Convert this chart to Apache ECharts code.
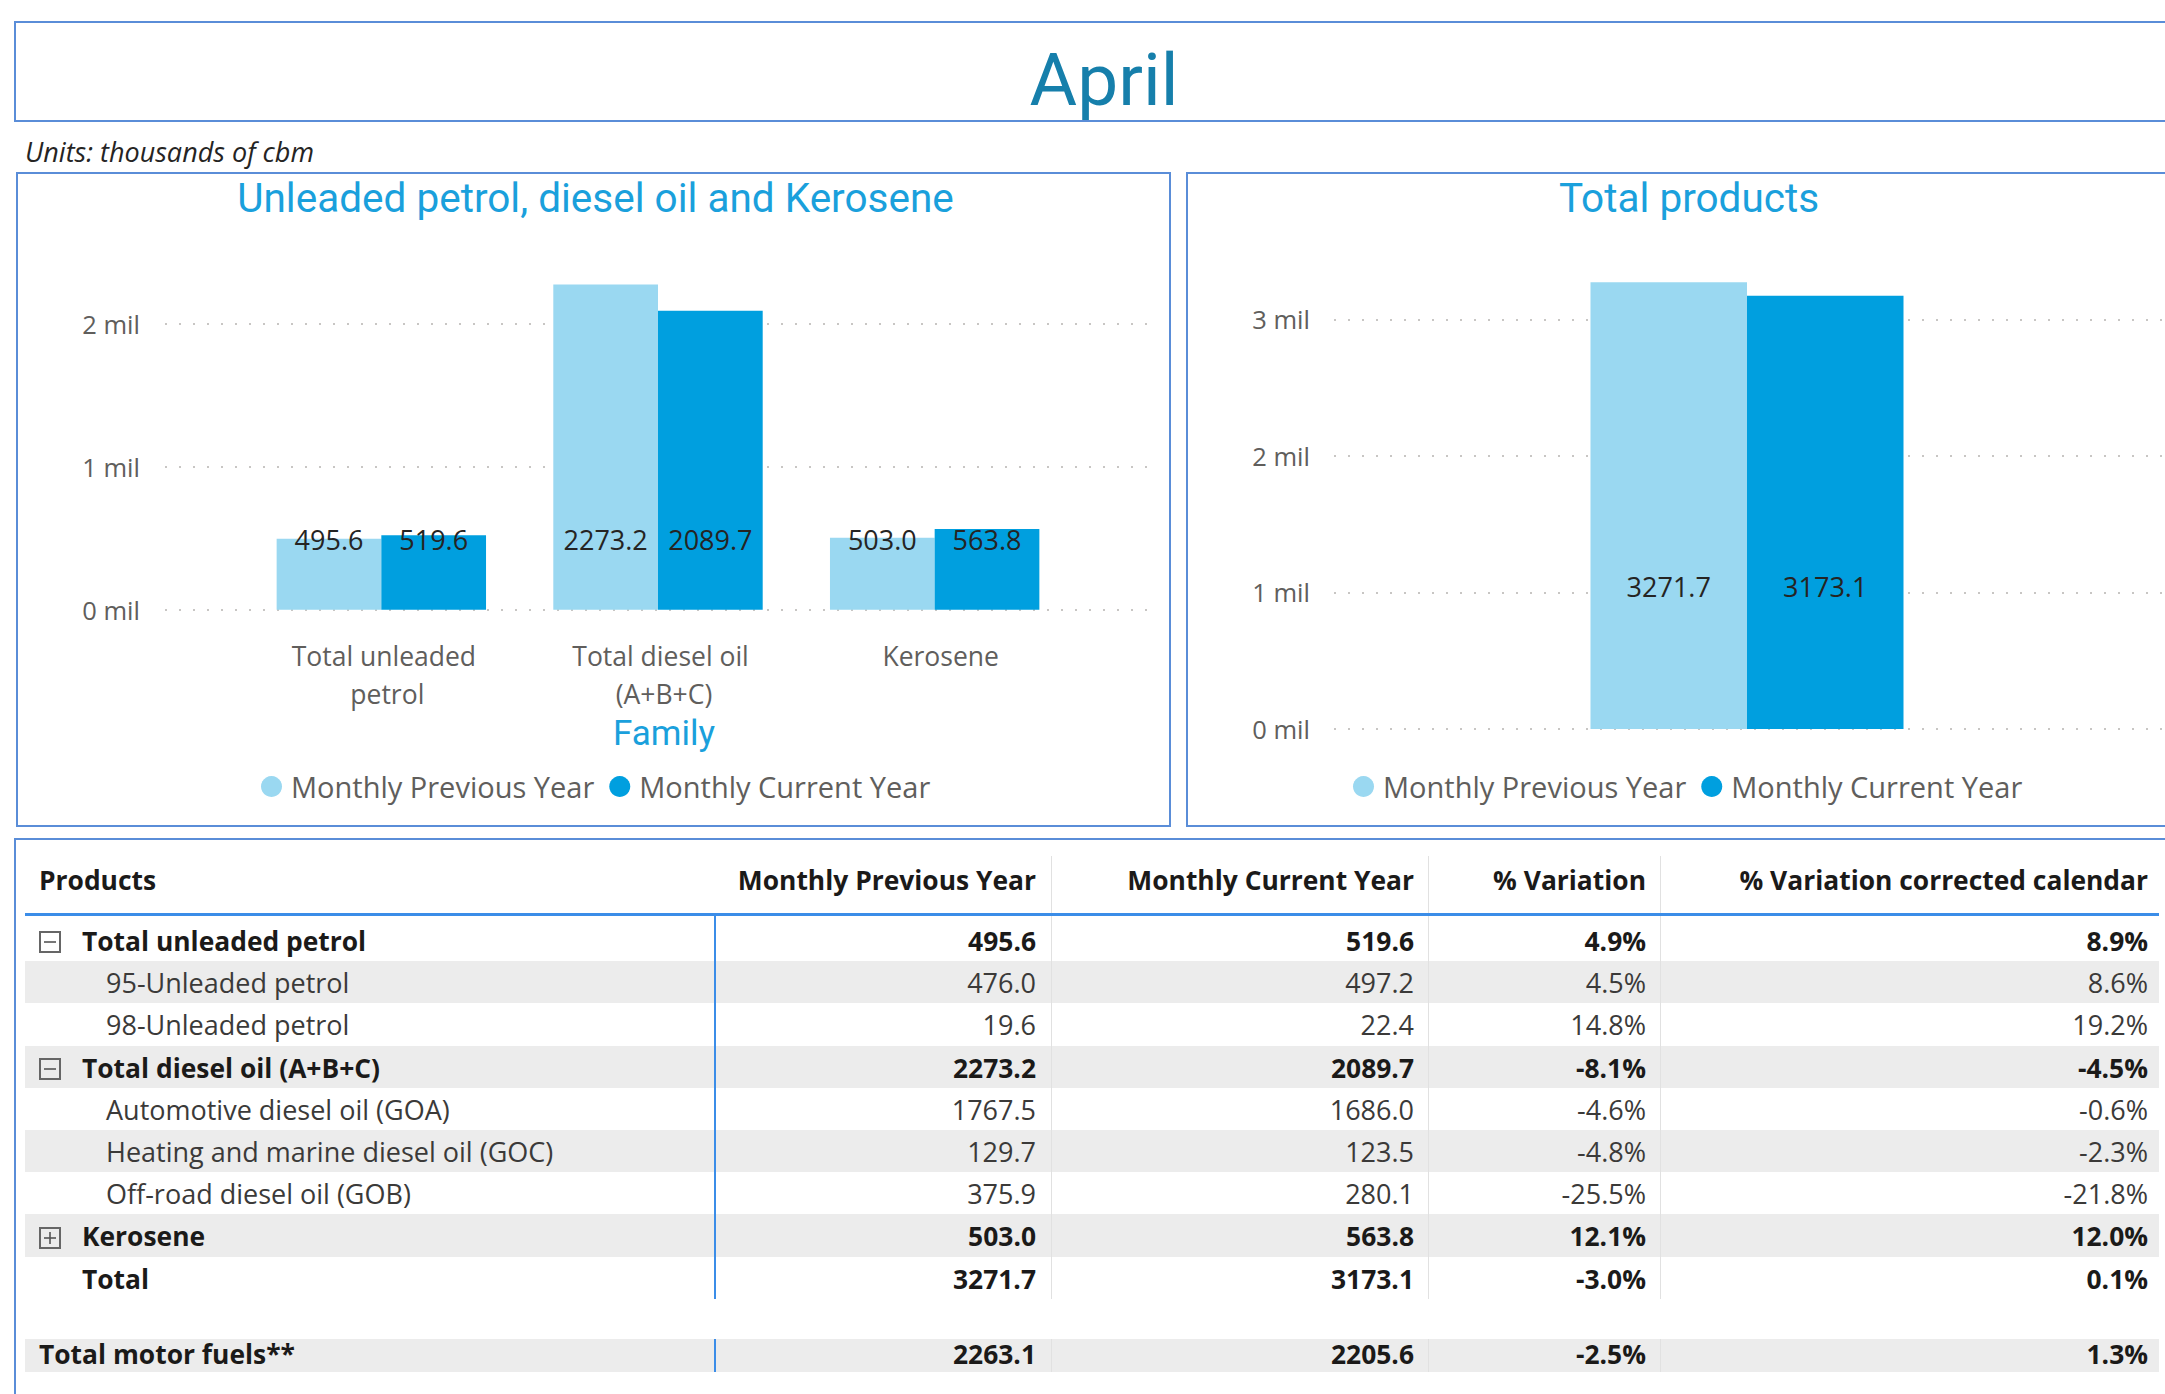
<!DOCTYPE html>
<html><head><meta charset="utf-8">
<script src="https://cdn.jsdelivr.net/npm/echarts@6/dist/echarts.min.js"></script>
<style>
html,body{margin:0;padding:0;width:2165px;height:1394px;overflow:hidden;background:#fff;font-family:'Open Sans',sans-serif;color:#252423;}
.box{position:absolute;border:2px solid #5a8dd8;box-sizing:border-box;}
.t{position:absolute;white-space:nowrap;}
#chart{position:absolute;left:0;top:0;width:2165px;height:835px;}
.band{position:absolute;background:#ececec;}
.vl{position:absolute;width:1px;background:#e1e1e1;}
.bl{position:absolute;width:2px;background:#3b8de8;}
.cell{position:absolute;white-space:nowrap;height:42px;line-height:42px;font-size:27px;}
.r{text-align:right;}
.b{font-weight:700;color:#1b1a19;font-size:26.4px;}
.n{color:#3b3a39;}
</style></head><body>
<div class="box" style="left:14px;top:21px;width:2200px;height:101px;"></div>
<div class="t" style="left:0;width:2208px;top:36px;height:88px;line-height:88px;text-align:center;font-family:Roboto,sans-serif;font-size:73px;color:#167fab;">April</div>
<div class="t" style="left:25px;top:136px;height:32px;line-height:32px;font-size:27px;font-style:italic;color:#252423;">Units: thousands of cbm</div>
<div class="box" style="left:16px;top:172px;width:1155px;height:655px;"></div>
<div class="box" style="left:1186px;top:172px;width:1100px;height:655px;"></div>
<div class="t" style="left:16px;width:1159px;top:177px;height:42px;line-height:42px;text-align:center;font-family:Roboto,sans-serif;font-size:40.5px;color:#1aa0dc;z-index:2;">Unleaded petrol, diesel oil and Kerosene</div>
<div class="t" style="left:1186px;width:1006px;top:177px;height:42px;line-height:42px;text-align:center;font-family:Roboto,sans-serif;font-size:40.5px;color:#1aa0dc;z-index:2;">Total products</div>
<div id="chart"></div>
<div class="box" style="left:14px;top:838px;width:2200px;height:600px;"></div>
<div id="table"></div>
<script>
// ---- chart data ----
const seriesNames = ['Monthly Previous Year', 'Monthly Current Year'];
const families = ['Total unleaded petrol', 'Total diesel oil (A+B+C)', 'Kerosene'];
const familyPrev = [495.6, 2273.2, 503.0];
const familyCurr = [519.6, 2089.7, 563.8];
const totalCategory = ['Total products'];
const totalPrev = [3271.7];
const totalCurr = [3173.1];
const yTicksLeft = [0, 1000, 2000];
const yTicksRight = [0, 1000, 2000, 3000];

// ---- table data ----
const columns = ['Products', 'Monthly Previous Year', 'Monthly Current Year', '% Variation', '% Variation corrected calendar'];
const products = ['Total unleaded petrol', '95-Unleaded petrol', '98-Unleaded petrol', 'Total diesel oil (A+B+C)',
  'Automotive diesel oil (GOA)', 'Heating and marine diesel oil (GOC)', 'Off-road diesel oil (GOB)', 'Kerosene', 'Total'];
const productLevel = ['parent-open', 'child', 'child', 'parent-open', 'child', 'child', 'child', 'parent-closed', 'total'];
const prevYear = [495.6, 476.0, 19.6, 2273.2, 1767.5, 129.7, 375.9, 503.0, 3271.7];
const currYear = [519.6, 497.2, 22.4, 2089.7, 1686.0, 123.5, 280.1, 563.8, 3173.1];
const variation = [4.9, 4.5, 14.8, -8.1, -4.6, -4.8, -25.5, 12.1, -3.0];
const variationCal = [8.9, 8.6, 19.2, -4.5, -0.6, -2.3, -21.8, 12.0, 0.1];
const motorLabel = 'Total motor fuels**';
const motorValues = [2263.1, 2205.6, -2.5, 1.3];

const FONT = "'Open Sans', sans-serif";
const TFONT = "Roboto, sans-serif";
const GRAY = '#605e5c';
const gridLine = {show: true, showMaxLine: false, lineStyle: {color: '#c8c6c4', type: [2, 12], width: 2}};

function lbl(dist) {
  return {show: true, position: 'insideBottom', distance: dist, color: '#252423', fontSize: 27, lineHeight: 27,
    fontFamily: FONT, formatter: p => Number(p.value).toFixed(1)};
}
const legendBase = {data: seriesNames, icon: 'circle', itemWidth: 21, itemHeight: 21, itemGap: 15, top: 767,
  textStyle: {fontSize: 29, color: GRAY, fontFamily: FONT, padding: [0, 0, 0, 4]}, selectedMode: false};

const chart = echarts.init(document.getElementById('chart'), null, {renderer: 'svg'});
chart.setOption({
  animation: false,
  textStyle: {fontFamily: FONT},
  color: ['#9ad8f1', '#009fdf'],
  legend: [Object.assign({left: 256}, legendBase), Object.assign({left: 1348}, legendBase)],
  grid: [
    {left: 165, top: 252, width: 990, height: 357.7},
    {left: 243, top: 252, width: 830, height: 357.7},
    {left: 1334, top: 251, width: 831, height: 478},
    {left: 1334, top: 251, width: 826, height: 478}
  ],
  xAxis: [
    {gridIndex: 0, type: 'category', data: [''], show: false},
    {gridIndex: 1, type: 'category', data: families, axisLine: {show: false}, axisTick: {show: false},
      axisLabel: {color: GRAY, fontSize: 26.5, lineHeight: 38, margin: 27, width: 240, overflow: 'break', interval: 0,
        padding: [0, 0, 0, 12]},
      name: 'Family', nameLocation: 'middle', nameGap: 106,
      nameTextStyle: {color: '#1aa0dc', fontSize: 35, fontFamily: TFONT, padding: [0, 0, 0, 12]}},
    {gridIndex: 2, type: 'category', data: [''], show: false},
    {gridIndex: 3, type: 'category', data: totalCategory, show: false}
  ],
  yAxis: [
    {gridIndex: 0, type: 'value', min: yTicksLeft[0], max: 2500, interval: yTicksLeft[1] - yTicksLeft[0],
      axisLine: {show: false}, axisTick: {show: false}, splitLine: gridLine,
      axisLabel: {formatter: v => (v / 1000) + ' mil', color: GRAY, fontSize: 25.5, margin: 25, showMaxLabel: false}},
    {gridIndex: 1, type: 'value', min: 0, max: 2500, show: false, splitLine: {show: false}},
    {gridIndex: 2, type: 'value', min: yTicksRight[0], max: 3500, interval: yTicksRight[1] - yTicksRight[0],
      axisLine: {show: false}, axisTick: {show: false}, splitLine: gridLine,
      axisLabel: {formatter: v => (v / 1000) + ' mil', color: GRAY, fontSize: 25.5, margin: 24, showMaxLabel: false}},
    {gridIndex: 3, type: 'value', min: 0, max: 3500, show: false, splitLine: {show: false}}
  ],
  series: [
    {name: seriesNames[0], type: 'bar', xAxisIndex: 1, yAxisIndex: 1, data: familyPrev, barWidth: 104.7, barGap: '0%', label: lbl(57)},
    {name: seriesNames[1], type: 'bar', xAxisIndex: 1, yAxisIndex: 1, data: familyCurr, barWidth: 104.7, barGap: '0%', label: lbl(57)},
    {name: seriesNames[0], type: 'bar', xAxisIndex: 3, yAxisIndex: 3, data: totalPrev, barWidth: 156.5, barGap: '0%', label: lbl(129)},
    {name: seriesNames[1], type: 'bar', xAxisIndex: 3, yAxisIndex: 3, data: totalCurr, barWidth: 156.5, barGap: '0%', label: lbl(129)}
  ]
});

// ---- table ----
const T = document.getElementById('table');
const colRight = [null, 1036, 1414, 1646, 2148];
const sepX = [1051, 1428, 1660];
const rowTop0 = 919, rowH = 42.2;
let html = '';
function add(s) { html += s; }
// header
add(`<div class="cell b" style="left:39px;top:859px;">${columns[0]}</div>`);
for (let c = 1; c < columns.length; c++) {
  add(`<div class="cell b r" style="right:${2165 - colRight[c]}px;top:859px;">${columns[c]}</div>`);
}
// bands
products.forEach((p, i) => {
  if (i % 2 === 1) add(`<div class="band" style="left:25px;width:2134px;top:${rowTop0 + i * rowH}px;height:${rowH}px;"></div>`);
});
add(`<div class="band" style="left:25px;width:2134px;top:1339px;height:33px;"></div>`);
// separators
sepX.forEach(x => {
  add(`<div class="vl" style="left:${x}px;top:856px;height:443px;"></div>`);
  add(`<div class="vl" style="left:${x}px;top:1339px;height:33px;"></div>`);
});
add(`<div class="bl" style="left:714px;top:916px;height:383px;"></div>`);
add(`<div class="bl" style="left:714px;top:1339px;height:33px;"></div>`);
add(`<div style="position:absolute;left:25px;width:2134px;top:913px;height:3px;background:#3b8de8;"></div>`);
function icon(open, top) {
  const cy = top + rowH / 2;
  const plus = open ? '' : '<line x1="11" y1="5" x2="11" y2="17" stroke="#555" stroke-width="1.6"/>';
  return `<svg style="position:absolute;left:39px;top:${cy - 10}px" width="22" height="22"><rect x="1" y="1" width="20" height="20" fill="none" stroke="#666" stroke-width="2"/><line x1="5" y1="11" x2="17" y2="11" stroke="#555" stroke-width="1.6"/>${plus}</svg>`;
}
const pct = v => v.toFixed(1) + '%';
products.forEach((p, i) => {
  const top = rowTop0 + i * rowH + 1;
  const lvl = productLevel[i];
  const bold = lvl !== 'child';
  const cls = bold ? 'b' : 'n';
  const x = lvl === 'child' ? 106 : 82;
  if (lvl === 'parent-open') add(icon(true, top));
  if (lvl === 'parent-closed') add(icon(false, top));
  add(`<div class="cell ${cls}" style="left:${x}px;top:${top}px;">${p}</div>`);
  const vals = [prevYear[i].toFixed(1), currYear[i].toFixed(1), pct(variation[i]), pct(variationCal[i])];
  vals.forEach((v, k) => add(`<div class="cell ${cls} r" style="right:${2165 - colRight[k + 1]}px;top:${top}px;">${v}</div>`));
});
add(`<div class="cell b" style="left:39px;top:1333px;">${motorLabel}</div>`);
[motorValues[0].toFixed(1), motorValues[1].toFixed(1), pct(motorValues[2]), pct(motorValues[3])].forEach((v, k) =>
  add(`<div class="cell b r" style="right:${2165 - colRight[k + 1]}px;top:1333px;">${v}</div>`));
T.innerHTML = html;
</script>
</body></html>
